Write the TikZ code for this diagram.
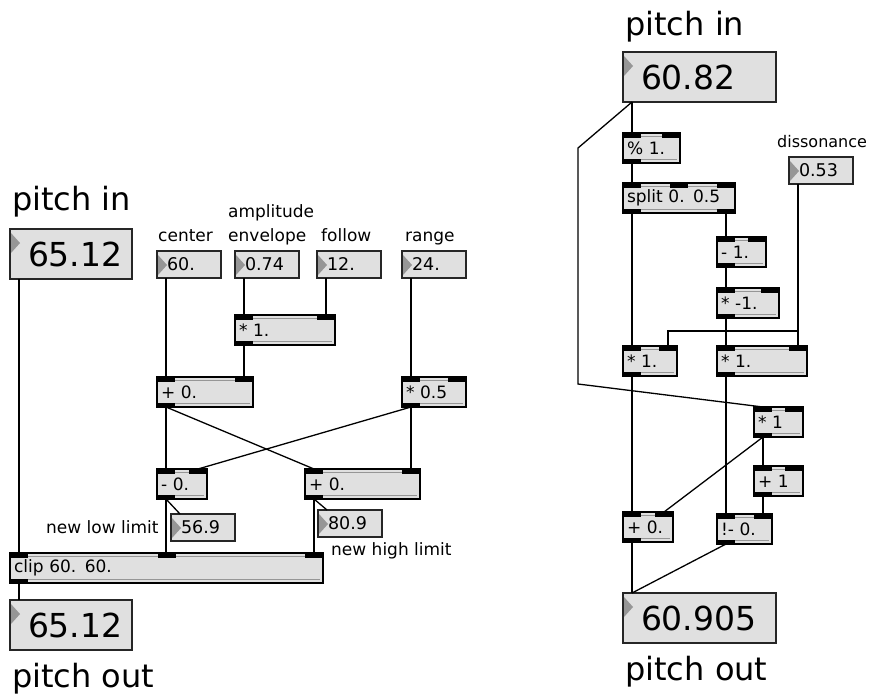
\documentclass[tikz,border=0pt]{standalone}
\usepackage{fontspec}
\setmainfont{DejaVu Sans}
\usetikzlibrary{calc}
\definecolor{boxfill}{RGB}{224,224,224}
\definecolor{tabgray}{RGB}{150,150,150}

\begin{document}
\begin{tikzpicture}[
    x=1pt, y=-1pt,
    obj/.style={draw, line width=1.2pt, fill=boxfill, anchor=north west,
                inner xsep=4pt, inner ysep=0pt, outer sep=0pt, align=left,
                minimum height=30pt, font=\fontsize{17}{17}\selectfont},
    num/.style={draw=black!85, line width=1.2pt, fill=boxfill, anchor=north west,
                inner xsep=10pt, inner ysep=0pt, outer sep=0pt, text width=44pt,
                align=left, minimum height=27pt, font=\fontsize{17.5}{17.5}\selectfont,
                path picture={\fill[tabgray]
                  ([xshift=1pt,yshift=-4pt]path picture bounding box.north west)
                  -- ++(0pt,-20pt) -- ++(9pt,10pt) -- cycle;}},
    bignum/.style={num, inner xsep=18pt, minimum height=50pt,
                   font=\fontsize{33}{33}\selectfont},
    lbl/.style={anchor=base west, inner sep=0pt, font=\fontsize{17}{17}\selectfont},
    title/.style={anchor=base west, inner sep=0pt, font=\fontsize{32}{32}\selectfont},
    wire/.style={line width=1.3pt},
  ]
  \useasboundingbox (0,0) rectangle (869,696);

  % left patch
  \node (lin)    [title] at (12,210)  {pitch in};
  \node (lout)   [title] at (12,687)  {pitch out};
  \node (tcen)   [lbl]   at (158,241) {center};
  \node (tamp)   [lbl]   at (228,217) {amplitude};
  \node (tenv)   [lbl]   at (228,241) {envelope};
  \node (tfol)   [lbl]   at (321,241) {follow};
  \node (trng)   [lbl]   at (405,241) {range};
  \node (tlow)   [lbl]   at (46,533)  {new low limit};
  \node (thigh)  [lbl]   at (331,555) {new high limit};

  \node (lpin)   [bignum, text width=86pt] at (10,229) {65.12};
  \node (center) [num] at (157,251) {60.};
  \node (ampenv) [num] at (235,251) {0.74};
  \node (follow) [num] at (317,251) {12.};
  \node (range)  [num] at (402,251) {24.};
  \node (lmul)   [obj, text width=92pt]  at (235,315) {* 1.};
  \node (ladd)   [obj, text width=88pt]  at (157,377) {+ 0.};
  \node (lhalf)  [obj, text width=56pt]  at (402,377) {* 0.5};
  \node (lsub)   [obj, text width=42pt]  at (157,469) {- 0.};
  \node (lsum)   [obj, text width=107pt] at (305,469) {+ 0.};
  \node (lowbox) [num] at (171,514) {56.9};
  \node (hibox)  [num] at (318,510) {80.9};
  \node (clip)   [obj, text width=305pt] at (10,553) {clip 60. 60.};
  \node (lpout)  [bignum, text width=86pt] at (10,600) {65.12};

  % right patch
  \node (rin)    [title] at (625,35)  {pitch in};
  \node (rout)   [title] at (625,680) {pitch out};
  \node (tdis)   [lbl, font=\fontsize{16}{16}\selectfont] at (777,147) {dissonance};

  \node (rpin)   [bignum, text width=117pt] at (623,52) {60.82};
  \node (rmod)   [obj, text width=49pt]  at (623,133) {\% 1.};
  \node (rsplit) [obj, text width=104pt] at (623,183) {split 0. 0.5};
  \node (rdis)   [num] at (789,157) {0.53};
  \node (rdec)   [obj, text width=41pt]  at (717,237) {- 1.};
  \node (rneg)   [obj, text width=54pt]  at (717,288) {* -1.};
  \node (rmulA)  [obj, text width=46pt]  at (623,346) {* 1.};
  \node (rmulB)  [obj, text width=82pt]  at (717,346) {* 1.};
  \node (rmulC)  [obj, text width=41pt]  at (754,407) {* 1};
  \node (rinc)   [obj, text width=41pt]  at (754,466) {+ 1};
  \node (radd)   [obj, text width=42pt]  at (623,512) {+ 0.};
  \node (rrsub)  [obj, text width=47pt]  at (717,514) {!- 0.};
  \node (rpout)  [bignum, text width=117pt] at (623,593) {60.905};

  % inlets and outlets
  \foreach \n/\i/\o in {lmul/2/1, ladd/2/1, lhalf/2/1, lsub/2/1, lsum/2/1,
                        clip/3/1, rmod/2/1, rsplit/3/2, rdec/2/1, rneg/2/1,
                        rmulA/2/1, rmulB/2/1, rmulC/2/1, rinc/2/1, radd/2/1,
                        rrsub/2/1} {
    \draw[tabgray, line width=1.4pt]
      ([xshift=3pt,yshift=-3.5pt]\n.north west) -- ([xshift=-3pt,yshift=-3.5pt]\n.north east);
    \draw[tabgray, line width=1.4pt]
      ([xshift=3pt,yshift=3.5pt]\n.south west) -- ([xshift=-3pt,yshift=3.5pt]\n.south east);
    \foreach \k in {1,...,\i} {
      \pgfmathsetmacro\f{(\k-1)/max(\i-1,1)}
      \fill ($(\n.north west)!\f!([xshift=-18pt]\n.north east)$) rectangle ++(18pt,-4.5pt);
    }
    \foreach \k in {1,...,\o} {
      \pgfmathsetmacro\f{(\k-1)/max(\o-1,1)}
      \fill ($(\n.south west)!\f!([xshift=-18pt]\n.south east)$) rectangle ++(18pt,4.5pt);
    }
  }

  % left wires
  \draw[wire] ([xshift=9pt]lpin.south west)   -- ([xshift=9pt]clip.north west);
  \draw[wire] ([xshift=9pt]center.south west) -- ([xshift=9pt]ladd.north west);
  \draw[wire] ([xshift=9pt]ampenv.south west) -- ([xshift=9pt]lmul.north west);
  \draw[wire] ([xshift=9pt]follow.south west) -- ([xshift=-9pt]lmul.north east);
  \draw[wire] ([xshift=9pt]lmul.south west)   -- ([xshift=-9pt]ladd.north east);
  \draw[wire] ([xshift=9pt]range.south west)  -- ([xshift=9pt]lhalf.north west);
  \draw[wire] ([xshift=9pt]ladd.south west)   -- ([xshift=9pt]lsub.north west);
  \draw[wire] ([xshift=9pt]ladd.south west)   -- ([xshift=9pt]lsum.north west);
  \draw[wire] ([xshift=9pt]lhalf.south west)  -- ([xshift=-9pt]lsub.north east);
  \draw[wire] ([xshift=9pt]lhalf.south west)  -- ([xshift=-9pt]lsum.north east);
  \draw[wire] ([xshift=9pt]lsub.south west)   -- ([xshift=9pt]lsub.south west |- clip.north);
  \draw[wire] ([xshift=9pt]lsub.south west)   -- ([xshift=9pt]lowbox.north west);
  \draw[wire] ([xshift=9pt]lsum.south west)   -- ([xshift=9pt]lsum.south west |- clip.north);
  \draw[wire] ([xshift=9pt]lsum.south west)   -- ([xshift=9pt]hibox.north west);
  \draw[wire] ([xshift=9pt]clip.south west)   -- ([xshift=9pt]lpout.north west);

  % right wires
  \coordinate (bendA) at (578,148);
  \coordinate (bendB) at (578,384);
  \coordinate (jog)   at (700,331);
  \draw[wire] ([xshift=9pt]rpin.south west)   -- ([xshift=9pt]rmod.north west);
  \draw[wire] ([xshift=9pt]rpin.south west)   -- (bendA) -- (bendB)
                                              -- ([xshift=9pt]rmulC.north west);
  \draw[wire] ([xshift=9pt]rmod.south west)   -- ([xshift=9pt]rsplit.north west);
  \draw[wire] ([xshift=9pt]rsplit.south west) -- ([xshift=9pt]rmulA.north west);
  \draw[wire] ([xshift=-9pt]rsplit.south east) -- ([xshift=9pt]rdec.north west);
  \draw[wire] ([xshift=9pt]rdec.south west)   -- ([xshift=9pt]rneg.north west);
  \draw[wire] ([xshift=9pt]rneg.south west)   -- ([xshift=9pt]rmulB.north west);
  \draw[wire] ([xshift=9pt]rdis.south west)   -- ([xshift=-9pt]rmulB.north east);
  \draw[wire] ([xshift=9pt]rdis.south west)   |- (jog) -| ([xshift=-9pt]rmulA.north east);
  \draw[wire] ([xshift=9pt]rmulA.south west)  -- ([xshift=9pt]radd.north west);
  \draw[wire] ([xshift=9pt]rmulB.south west)  -- ([xshift=9pt]rrsub.north west);
  \draw[wire] ([xshift=9pt]rmulC.south west)  -- ([xshift=9pt]rinc.north west);
  \draw[wire] ([xshift=9pt]rmulC.south west)  -- ([xshift=-9pt]radd.north east);
  \draw[wire] ([xshift=9pt]rinc.south west)   -- ([xshift=-9pt]rrsub.north east);
  \draw[wire] ([xshift=9pt]radd.south west)   -- ([xshift=9pt]rpout.north west);
  \draw[wire] ([xshift=9pt]rrsub.south west)  -- ([xshift=9pt]rpout.north west);
\end{tikzpicture}
\end{document}
